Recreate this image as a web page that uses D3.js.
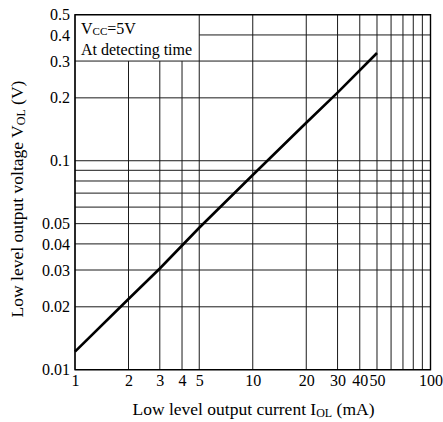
<!DOCTYPE html>
<html>
<head>
<meta charset="utf-8">
<script src="https://cdn.jsdelivr.net/npm/d3@7"></script>
<style>
  body { margin: 0; background: #fff; }
  svg text { font-family: "Liberation Serif", "Times New Roman", Times, serif; fill: #000; }
</style>
</head>
<body>
<main></main>
<script>
// data
const currentMA = [1, 2, 3, 5, 10, 20, 30, 50]
const voltageV = [0.0122, 0.0218, 0.0305, 0.0478, 0.0855, 0.152, 0.212, 0.328]

const xGrid = [1, 2, 3, 4, 5, 10, 20, 30, 40, 50, 60, 70, 80, 90, 100]
const xTicks = [1, 2, 3, 4, 5, 10, 20, 30, 40, 50, 100]
const yGrid = [0.01, 0.02, 0.03, 0.04, 0.05, 0.06, 0.07, 0.08, 0.09, 0.1, 0.2, 0.3, 0.5]
const yTicks = [0.01, 0.02, 0.03, 0.04, 0.05, 0.1, 0.2, 0.3, 0.4, 0.5]

const w = 443
const h = 422
const m = { left: 75, right: 12.5, top: 14.7, bottom: 52.3 }
const fs = 16
const titleFs = 17.5
const subFs = 12

const xScale = d3.scaleLog().domain([1, 100]).range([m.left, w - m.right])
const yScale = d3.scaleLog().domain([0.01, 0.5]).range([h - m.bottom, m.top])

const svg = d3.select("main").append("svg").attr("width", w).attr("height", h)

// text box corner (top left) covers the grid
const boxRight = xScale(5)
const boxBottom = yScale(0.3)

// vertical grid
svg.append("g")
  .selectAll("line")
  .data(xGrid)
  .enter()
  .append("line")
  .attr("x1", (d) => xScale(d))
  .attr("x2", (d) => xScale(d))
  .attr("y1", yScale(0.01))
  .attr("y2", (d) => (d > 1 && d < 5 ? boxBottom : yScale(0.5)))
  .attr("stroke", "#1a1a1a")
  .attr("stroke-width", 1)

// horizontal grid
svg.append("g")
  .selectAll("line")
  .data(yGrid)
  .enter()
  .append("line")
  .attr("x1", xScale(1))
  .attr("x2", xScale(100))
  .attr("y1", (d) => yScale(d))
  .attr("y2", (d) => yScale(d))
  .attr("stroke", "#1a1a1a")
  .attr("stroke-width", 1)

// 0.4 line only right of the box
svg.append("line")
  .attr("x1", boxRight)
  .attr("x2", xScale(100))
  .attr("y1", yScale(0.4))
  .attr("y2", yScale(0.4))
  .attr("stroke", "#1a1a1a")

// frame
svg.append("rect")
  .attr("x", xScale(1))
  .attr("y", yScale(0.5))
  .attr("width", xScale(100) - xScale(1))
  .attr("height", yScale(0.01) - yScale(0.5))
  .attr("fill", "none")
  .attr("stroke", "#000")
  .attr("stroke-width", 1.4)

// curve
const line = d3.line()
  .x((d, i) => xScale(currentMA[i]))
  .y((d) => yScale(d))

svg.append("path")
  .datum(voltageV)
  .attr("d", line)
  .attr("fill", "none")
  .attr("stroke", "#000")
  .attr("stroke-width", 2.6)

// axes (labels only, grid drawn above)
const xAxis = d3.axisBottom(xScale).tickValues(xTicks).tickFormat(d3.format("d")).tickSize(0).tickPadding(5)
const yAxis = d3.axisLeft(yScale).tickValues(yTicks).tickFormat((d) => String(d)).tickSize(0).tickPadding(5)

svg.append("g")
  .attr("transform", `translate(0, ${h - m.bottom})`)
  .call(xAxis)
svg.append("g")
  .attr("transform", `translate(${m.left}, 0)`)
  .call(yAxis)

svg.selectAll(".domain").remove()
svg.selectAll("g").attr("font-family", null).attr("font-size", null)
svg.selectAll(".tick text")
  .attr("font-size", fs)
  .attr("fill", "#000")

// box text
const t1 = svg.append("text").attr("x", 81).attr("y", 33.5).attr("font-size", fs)
t1.append("tspan").text("V")
t1.append("tspan").text("CC").attr("font-size", 11).attr("dy", 1.5)
t1.append("tspan").text("=5V").attr("dy", -1.5)

svg.append("text").attr("x", 81).attr("y", 55).attr("font-size", fs).text("At detecting time")

// x title
const xt = svg.append("text")
  .attr("x", 253.5)
  .attr("y", 414.5)
  .attr("text-anchor", "middle")
  .attr("font-size", titleFs)
xt.append("tspan").text("Low level output current I")
xt.append("tspan").text("OL").attr("font-size", subFs).attr("dy", 2)
xt.append("tspan").text(" (mA)").attr("dy", -2)

// y title
const yt = svg.append("text")
  .attr("transform", `translate(22.5, 199) rotate(-90)`)
  .attr("text-anchor", "middle")
  .attr("font-size", titleFs)
yt.append("tspan").text("Low level output voltage V")
yt.append("tspan").text("OL").attr("font-size", subFs).attr("dy", 2)
yt.append("tspan").text(" (V)").attr("dy", -2)
</script>
</body>
</html>
